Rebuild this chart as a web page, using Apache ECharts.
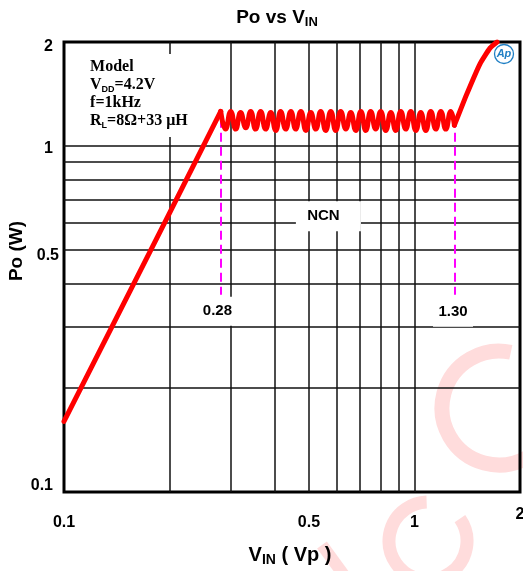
<!DOCTYPE html>
<html><head><meta charset="utf-8">
<script src="https://cdn.jsdelivr.net/npm/echarts@6/dist/echarts.min.js"></script>
<style>html,body{margin:0;padding:0;background:#fff}#c{width:523px;height:571px}</style>
</head><body><div id="c"></div>
<script>
// ---------- data ----------
const xTickValues = [0.1, 0.5, 1, 2];
const xTickLabels = ['0.1', '0.5', '1', '2'];
const yTickValues = [0.1, 0.5, 1, 2];
const yTickLabels = ['0.1', '0.5', '1', '2'];
const xGridValues = [0.2, 0.3, 0.4, 0.5, 0.6, 0.7, 0.8, 0.9, 1];
const yGridValues = [0.2, 0.3, 0.4, 0.5, 0.6, 0.7, 0.8, 0.9, 1];
const riseX = [0.1, 0.2, 0.28];
const riseY = [0.16, 0.64, 1.26];
const waveX = [0.280, 0.289, 0.299, 0.309, 0.319, 0.330, 0.341, 0.352, 0.364, 0.376,
  0.389, 0.402, 0.415, 0.429, 0.444, 0.458, 0.474, 0.490, 0.506, 0.523,
  0.540, 0.558, 0.577, 0.596, 0.616, 0.637, 0.658, 0.680, 0.703, 0.726,
  0.750, 0.775, 0.801, 0.828, 0.856, 0.884, 0.914, 0.944, 0.976, 1.009,
  1.042, 1.077, 1.113, 1.150, 1.189, 1.228, 1.269, 1.300];
const waveY = [1.26, 1.12, 1.26, 1.12, 1.25, 1.13, 1.26, 1.12, 1.26, 1.12,
  1.25, 1.11, 1.26, 1.12, 1.26, 1.12, 1.26, 1.11, 1.25, 1.12,
  1.26, 1.11, 1.26, 1.11, 1.26, 1.12, 1.25, 1.11, 1.26, 1.11,
  1.26, 1.12, 1.26, 1.11, 1.25, 1.11, 1.26, 1.12, 1.26, 1.11,
  1.25, 1.11, 1.26, 1.12, 1.26, 1.12, 1.26, 1.15];
const rise2X = [1.30, 1.40, 1.538, 1.642, 1.72];
const rise2Y = [1.15, 1.39, 1.73, 1.92, 2.0];
const markerX = [0.28, 1.30];
const markerLabels = ['0.28', '1.30'];

// ---------- chart ----------
const zip = (xs, ys) => xs.map((x, i) => [x, ys[i]]);
const SANS = '"Liberation Sans", Arial, sans-serif';
const SERIF = '"Liberation Serif", "Times New Roman", serif';
const red = '#ff0000';
const redLine = { color: red, width: 5, cap: 'round', join: 'round' };

const chart = echarts.init(document.getElementById('c'), null, { renderer: 'canvas' });

const option = {
  animation: false,
  backgroundColor: '#ffffff',
  grid: { left: 64, top: 42, right: 3, bottom: 79, show: true, borderColor: '#000', borderWidth: 3, backgroundColor: 'transparent', z: 1 },
  xAxis: { type: 'log', logBase: 10, min: 0.1, max: 2,
    axisLine: { show: false }, axisTick: { show: false }, axisLabel: { show: false },
    splitLine: { show: false }, minorSplitLine: { show: false } },
  yAxis: { type: 'log', logBase: 10, min: 0.1, max: 2,
    axisLine: { show: false }, axisTick: { show: false }, axisLabel: { show: false },
    splitLine: { show: false }, minorSplitLine: { show: false } },
  series: [
    { name: 'grid', type: 'line', data: [], z: 2, silent: true,
      markLine: { silent: true, symbol: ['none', 'none'], label: { show: false },
        lineStyle: { color: '#111', width: 1.5, type: 'solid' },
        emphasis: { disabled: true },
        data: xGridValues.map(v => ({ xAxis: v })).concat(yGridValues.map(v => ({ yAxis: v }))) } },
    { name: 'notes', type: 'line', data: [], z: 3, silent: true,
      markLine: { silent: true, symbol: ['none', 'none'], label: { show: false },
        lineStyle: { color: '#ff00ff', width: 2, type: [9, 5] },
        emphasis: { disabled: true },
        data: markerX.map(v => [{ coord: [v, 1.2] }, { coord: [v, 0.372] }]) },
      markPoint: { silent: true, symbol: 'rect', itemStyle: { color: '#ffffff' },
        emphasis: { disabled: true },
        label: { color: '#000', fontFamily: SANS, fontWeight: 'bold', fontSize: 15 },
        data: [
          { coord: [0.1574, 1.40], symbolSize: [134, 83],
            label: { position: 'insideLeft', distance: 24, offset: [0, -2],
              fontFamily: SERIF, fontWeight: 'bold', fontSize: 16, lineHeight: 18,
              formatter: 'Model\nV{s|DD}=4.2V\nf=1kHz\nR{s|L}=8Ω+33 μH',
              rich: { s: { fontFamily: SANS, fontWeight: 'bold', fontSize: 9, verticalAlign: 'bottom', lineHeight: 18, color: '#000' } } } },
          { coord: [0.568, 0.627], symbolSize: [65, 30], label: { formatter: 'NCN', offset: [-5, 0] } },
          { coord: [0.274, 0.333], symbolSize: [38, 29], label: { formatter: markerLabels[0] } },
          { coord: [1.288, 0.331], symbolSize: [40, 29], label: { formatter: markerLabels[1] } }
        ] } },
    { name: 'rise', type: 'line', z: 5, symbol: 'none', silent: true, data: zip(riseX, riseY), lineStyle: redLine },
    { name: 'ncn', type: 'line', z: 5, symbol: 'none', silent: true, smooth: 0.5, data: zip(waveX, waveY), lineStyle: redLine },
    { name: 'rise2', type: 'line', z: 5, symbol: 'none', silent: true, smooth: 0.15, data: zip(rise2X, rise2Y), lineStyle: redLine }
  ]
};
chart.setOption(option);

// ---------- labels, titles, decorations ----------
const px = v => chart.convertToPixel({ xAxisIndex: 0 }, v);
const py = v => chart.convertToPixel({ yAxisIndex: 0 }, v);
const xBase = py(0.1);
const xLabelDy = { '2': 23 };
const yLabelRight = { '0.5': 59 };
const yLabelDy = { '2': 5, '1': 2.5, '0.5': 5.5, '0.1': -6.5 };
const tickFont = 'bold 16px ' + SANS;
const pink = '#ffdcdc';

const elements = [
  // watermark
  { type: 'arc', z: -10, silent: true, shape: { cx: 499, cy: 408, r: 57, startAngle: Math.PI * 60 / 180, endAngle: Math.PI * 282 / 180, clockwise: true },
    style: { stroke: pink, lineWidth: 15, fill: null } },
  { type: 'arc', z: -10, silent: true, shape: { cx: 428, cy: 541, r: 39, startAngle: -Math.PI * 35 / 180, endAngle: Math.PI * 268 / 180, clockwise: true },
    style: { stroke: pink, lineWidth: 13, fill: null } },
  { type: 'line', z: -10, silent: true, shape: { x1: 322, y1: 545, x2: 346, y2: 578 }, style: { stroke: pink, lineWidth: 12 } },
  // title
  { type: 'text', x: 277, y: 18, silent: true, style: { text: '{a|Po vs V}{b|IN}', align: 'center', textAlign: 'center', verticalAlign: 'middle', textVerticalAlign: 'middle',
      rich: { a: { fontFamily: SANS, fontWeight: 'bold', fontSize: 19, fill: '#000', color: '#000', lineHeight: 22 },
              b: { fontFamily: SANS, fontWeight: 'bold', fontSize: 13, fill: '#000', color: '#000', lineHeight: 22, verticalAlign: 'bottom', padding: [6, 0, 0, 0] } } } },
  // x axis name
  { type: 'text', x: 290, y: 555, silent: true, style: { text: '{a|V}{b|IN}{a| ( Vp )}', align: 'center', textAlign: 'center', verticalAlign: 'middle', textVerticalAlign: 'middle',
      rich: { a: { fontFamily: SANS, fontWeight: 'bold', fontSize: 20, fill: '#000', color: '#000', lineHeight: 24 },
              b: { fontFamily: SANS, fontWeight: 'bold', fontSize: 14, fill: '#000', color: '#000', lineHeight: 24, verticalAlign: 'bottom', padding: [6, 0, 0, 0] } } } },
  // y axis name
  { type: 'text', x: 17, y: 251, rotation: Math.PI / 2, silent: true,
    style: { text: 'Po (W)', font: 'bold 19px ' + SANS, fill: '#000', align: 'center', textAlign: 'center', verticalAlign: 'middle', textVerticalAlign: 'middle' } },
  // logo
  { type: 'circle', z: 20, silent: true, shape: { cx: 504, cy: 54, r: 9.5 }, style: { stroke: '#1f7fc4', lineWidth: 1.3, fill: '#fff' } },
  { type: 'text', z: 21, x: 504, y: 54, silent: true, style: { text: 'Ap', font: 'italic bold 11px ' + SANS, fill: '#1f7fc4', align: 'center', textAlign: 'center', verticalAlign: 'middle', textVerticalAlign: 'middle' } }
];

xTickValues.forEach((v, i) => {
  const t = xTickLabels[i];
  elements.push({ type: 'text', silent: true, x: px(v), y: xBase + (xLabelDy[t] !== undefined ? xLabelDy[t] : 31),
    style: { text: t, font: tickFont, fill: '#000', align: 'center', textAlign: 'center', verticalAlign: 'middle', textVerticalAlign: 'middle' } });
});
yTickValues.forEach((v, i) => {
  const t = yTickLabels[i];
  elements.push({ type: 'text', silent: true, x: yLabelRight[t] || 53, y: py(v) + (yLabelDy[t] || 0),
    style: { text: t, font: tickFont, fill: '#000', align: 'right', textAlign: 'right', verticalAlign: 'middle', textVerticalAlign: 'middle' } });
});

chart.setOption({ graphic: { elements: elements } });
</script>
</body></html>
